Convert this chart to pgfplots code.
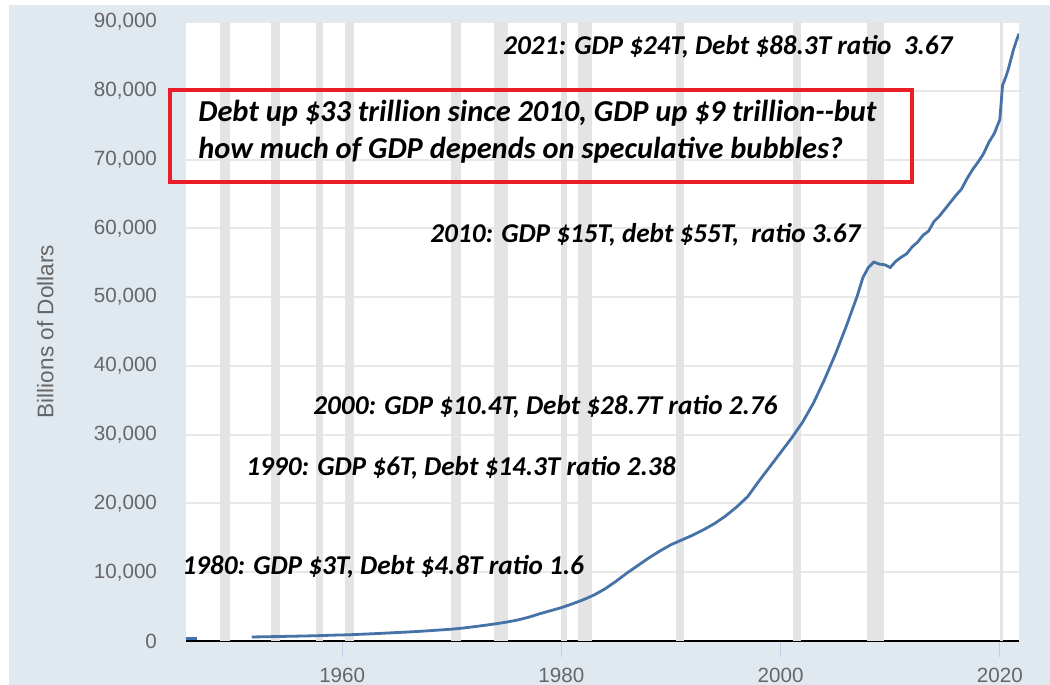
\documentclass[border=0pt]{standalone}
\usepackage{pgfplots}
\pgfplotsset{compat=1.18}
\usepackage{fontspec}
\setmainfont{Carlito}
\newfontfamily\arial{Liberation Sans}
\definecolor{fredbg}{RGB}{225,233,240}
\definecolor{fredline}{RGB}{69,114,167}
\definecolor{recgray}{RGB}{228,228,228}
\definecolor{gridgray}{RGB}{232,232,232}
\definecolor{ticklab}{RGB}{102,102,102}
\definecolor{tickblue}{RGB}{192,208,228}
\definecolor{boxred}{RGB}{234,30,40}

% total credit market debt, billions of dollars
\pgfplotstableread{
year value
1951.75 570
1952 590
1953 620
1954 645
1955 680
1956 710
1957 745
1958 785
1959 840
1960 880
1961 930
1962 1000
1963 1070
1964 1150
1965 1230
1966 1310
1967 1400
1968 1500
1969 1610
1970 1720
1971 1880
1972 2070
1973 2280
1974 2500
1975 2750
1976 3050
1977 3450
1978 3950
1979 4400
1980 4850
1981 5400
1982 6000
1983 6700
1984 7600
1985 8700
1986 9900
1987 11000
1988 12100
1989 13100
1990 14000
1991 14700
1992 15400
1993 16200
1994 17100
1995 18200
1996 19500
1997 21000
1998 23200
1999 25300
2000 27400
2001 29500
2002 31800
2003 34600
2004 38000
2005 41700
2006 45800
2007 50200
2007.5 52800
2008 54300
2008.5 55100
2009 54800
2009.5 54700
2010 54300
2010.5 55200
2011 55800
2011.5 56300
2012 57300
2012.5 58000
2013 59000
2013.5 59600
2014 61000
2014.5 61800
2015 62800
2015.5 63800
2016 64800
2016.5 65700
2017 67200
2017.5 68500
2018 69600
2018.5 70800
2019 72500
2019.5 73800
2019.75 74800
2020 75800
2020.25 80800
2020.5 81800
2020.75 83000
2021 84500
2021.25 86000
2021.5 87200
2021.75 88300
}\debt

\pgfplotstableread{
year value
1945.75 355
1946.25 362
1946.75 370
}\early

\begin{document}
\begin{tikzpicture}
\useasboundingbox (-93pt,-22pt) rectangle (432pt,320.5pt);
\fill[fredbg] (-88.5pt,-22pt) rectangle (432pt,318pt);
\fill[white] (0,0) rectangle (416.5pt,309.5pt);
\begin{axis}[
    scale only axis,
    width=416.5pt,
    height=309.5pt,
    xmin=1945.75, xmax=2021.75,
    ymin=0, ymax=90000,
    xtick={1960,1980,2000,2020},
    ytick={0,10000,...,90000},
    scaled y ticks=false,
    xticklabel style={/pgf/number format/1000 sep={}},
    yticklabel style={/pgf/number format/fixed, /pgf/number format/1000 sep={,}},
    /pgf/number format/assume math mode=true,
    tick label style={font=\arial\fontsize{10.3}{12}\selectfont, text=ticklab},
    yticklabel style={xshift=-3pt},
    xticklabel style={yshift=-2pt},
    axis x line*=bottom,
    axis y line*=left,
    x axis line style={-, black, line width=1.4pt},
    y axis line style={draw=none},
    tick align=outside,
    major tick length=8pt,
    xtick style={draw=tickblue, thin},
    ytick style={draw=none},
    ymajorgrids,
    grid style={draw=gridgray, line width=1pt},
    ylabel={Billions of Dollars},
    ylabel style={font=\arial\fontsize{11.3}{13}\selectfont, text=ticklab,
        at={(axis description cs:-0.169,0.5)}, anchor=center},
    clip=true,
]
% recession bars
\addplot[fill=recgray, draw=none, forget plot] coordinates {(1948.83,0) (1948.83,90000) (1949.75,90000) (1949.75,0)} -- cycle;
\addplot[fill=recgray, draw=none, forget plot] coordinates {(1953.5,0) (1953.5,90000) (1954.33,90000) (1954.33,0)} -- cycle;
\addplot[fill=recgray, draw=none, forget plot] coordinates {(1957.58,0) (1957.58,90000) (1958.25,90000) (1958.25,0)} -- cycle;
\addplot[fill=recgray, draw=none, forget plot] coordinates {(1960.25,0) (1960.25,90000) (1961.08,90000) (1961.08,0)} -- cycle;
\addplot[fill=recgray, draw=none, forget plot] coordinates {(1969.92,0) (1969.92,90000) (1970.83,90000) (1970.83,0)} -- cycle;
\addplot[fill=recgray, draw=none, forget plot] coordinates {(1973.83,0) (1973.83,90000) (1975.17,90000) (1975.17,0)} -- cycle;
\addplot[fill=recgray, draw=none, forget plot] coordinates {(1980.0,0) (1980.0,90000) (1980.5,90000) (1980.5,0)} -- cycle;
\addplot[fill=recgray, draw=none, forget plot] coordinates {(1981.5,0) (1981.5,90000) (1982.83,90000) (1982.83,0)} -- cycle;
\addplot[fill=recgray, draw=none, forget plot] coordinates {(1990.5,0) (1990.5,90000) (1991.17,90000) (1991.17,0)} -- cycle;
\addplot[fill=recgray, draw=none, forget plot] coordinates {(2001.17,0) (2001.17,90000) (2001.83,90000) (2001.83,0)} -- cycle;
\addplot[fill=recgray, draw=none, forget plot] coordinates {(2007.92,0) (2007.92,90000) (2009.42,90000) (2009.42,0)} -- cycle;
\addplot[fill=recgray, draw=none, forget plot] coordinates {(2020.0,0) (2020.0,90000) (2020.33,90000) (2020.33,0)} -- cycle;
% debt series
\addplot[fredline, line width=1.4pt] table[x=year, y=value] {\early};
\addplot[fredline, line width=1.4pt] table[x=year, y=value] {\debt};
\end{axis}
% annotations
\begin{scope}[every node/.style={anchor=west, inner sep=0pt, font=\bfseries\itshape\fontsize{13.6}{15}\selectfont}]
\node at (158.5pt,297pt) {2021: GDP \$24T, Debt \$88.3T ratio\ \ 3.67};
\node at (122pt,203pt) {2010: GDP \$15T, debt \$55T,\ \ ratio 3.67};
\node at (63.5pt,117pt) {2000: GDP \$10.4T, Debt \$28.7T ratio 2.76};
\node at (30pt,86.5pt) {1990: GDP \$6T, Debt \$14.3T ratio 2.38};
\node at (-2pt,37pt) {1980: GDP \$3T, Debt \$4.8T ratio 1.6};
\end{scope}
\begin{scope}[every node/.style={anchor=west, inner sep=0pt, font=\bfseries\itshape\fontsize{15.2}{17}\selectfont}]
\node at (6pt,264pt) {Debt up \$33 trillion since 2010, GDP up \$9 trillion-{}-but};
\node at (6pt,245.5pt) {how much of GDP depends on speculative bubbles?};
\end{scope}
\draw[boxred, line width=2pt] (-8pt,229.5pt) rectangle (363pt,275.5pt);
\end{tikzpicture}
\end{document}
